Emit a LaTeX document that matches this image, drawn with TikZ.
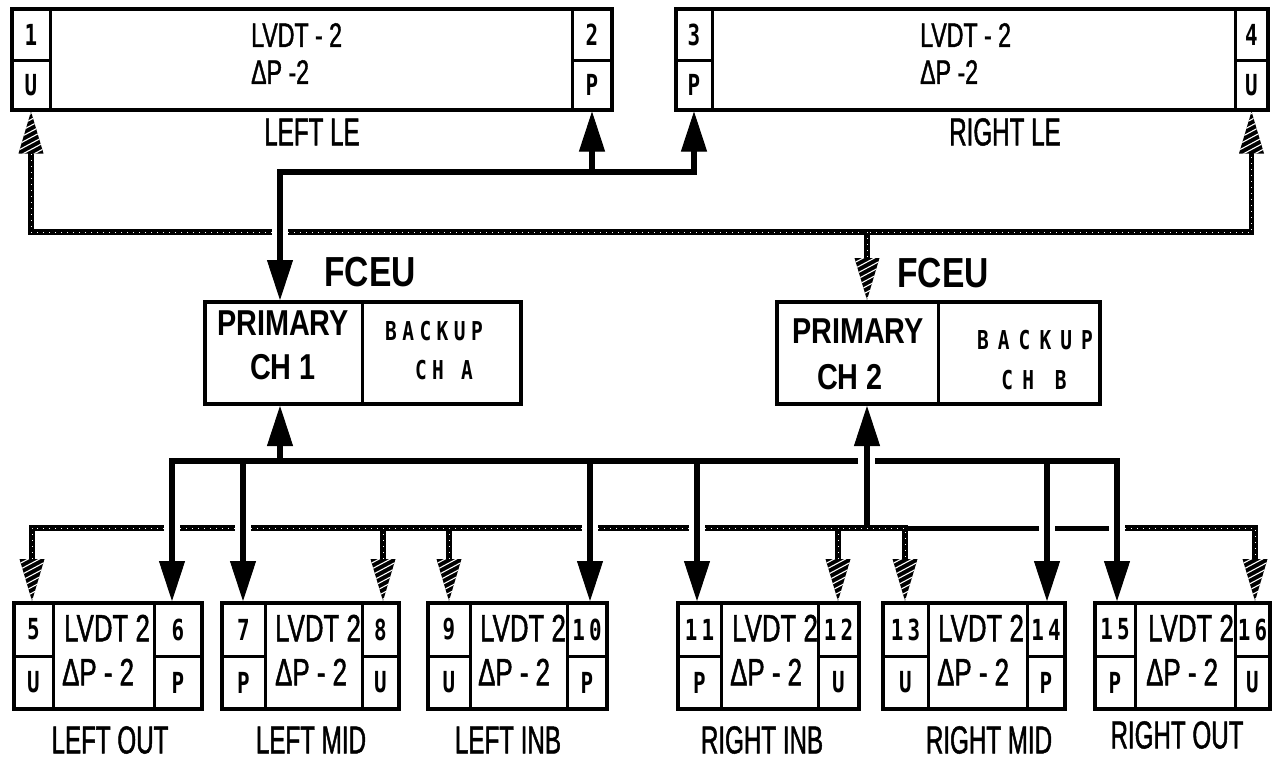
\documentclass[tikz,border=0pt]{standalone}
\usepackage{fontspec}
\setmainfont{Liberation Sans}
\newfontfamily\condf[FakeStretch=0.68,FakeBold=1.2]{Liberation Sans}
\newfontfamily\labf[FakeStretch=0.62,FakeBold=1.2]{Liberation Sans}
\newfontfamily\boldf[FakeStretch=0.8]{Liberation Sans}
\newfontfamily\cellf[FakeStretch=0.72,LetterSpace=15]{DejaVu Sans Mono}
\newfontfamily\blockf[FakeStretch=0.75,LetterSpace=21]{DejaVu Sans Mono}
\newfontfamily\blockwf[FakeStretch=0.75,LetterSpace=35]{DejaVu Sans Mono}
\usetikzlibrary{arrows.meta}
\newcommand\mkbox[7]{\node[#2, minimum width={(#5-#3)*1pt}, minimum height={(#6-#4)*1pt}] (#1) at ({(#3+#5)/2},{(#4+#6)/2}) {#7};}
\tikzset{
  sarr/.tip={Triangle[width=26pt,length=40pt,line width=1pt]},
  harr/.pic={
    \begin{scope}
      \clip (0,0) -- (-12.5,42) -- (12.5,42) -- cycle;
      \fill[black] (-15,-2) rectangle (15,44);
      \foreach \k in {4,10,...,64} {\draw[white,line width=1.1pt] (-15,\k) -- (15,\k-16);}
    \end{scope}
  }
}
\begin{document}
\begin{tikzpicture}[x=1pt,y=-1pt,
  outer/.style={draw, line width=4pt, inner sep=0pt},
  cell/.style={draw, line width=3pt, inner sep=0pt, font=\cellf\bfseries\fontsize{29}{29}\selectfont},
  tlv/.style={inner sep=0pt, anchor=west, font=\condf\fontsize{34}{34}\selectfont},
  blv/.style={inner sep=0pt, anchor=west, font=\condf\fontsize{38}{38}\selectfont},
  lab/.style={inner sep=0pt, font=\labf\fontsize{39}{39}\selectfont},
  fce/.style={inner sep=0pt, font=\boldf\bfseries\fontsize{42}{42}\selectfont},
  prim/.style={inner sep=0pt, font=\boldf\bfseries\fontsize{36}{36}\selectfont},
  bk/.style={inner sep=0pt, font=\blockf\bfseries\fontsize{26}{26}\selectfont},
  bkw/.style={inner sep=0pt, font=\blockwf\bfseries\fontsize{26}{26}\selectfont},
  sline/.style={line width=6pt, black},
  sthin/.style={line width=5pt, black},
  rope/.style={line width=5.5pt, black, postaction={draw=white, line width=0.9pt, dash pattern=on 1pt off 5pt}}
]
\useasboundingbox (0,0) rectangle (1275,763);

% ---------- top boxes ----------
\mkbox{c1a}{cell}{12}{9}{50}{60}{1}
\mkbox{c1b}{cell}{12}{60}{50}{110}{U}
\mkbox{c2a}{cell}{572}{9}{612}{60}{2}
\mkbox{c2b}{cell}{572}{60}{612}{110}{P}
\mkbox{LLE}{outer}{12}{9}{612}{110}{}
\mkbox{c3a}{cell}{676}{9}{712}{60}{3}
\mkbox{c3b}{cell}{676}{60}{712}{110}{P}
\mkbox{c4a}{cell}{1235}{9}{1268}{60}{4}
\mkbox{c4b}{cell}{1235}{60}{1268}{110}{U}
\mkbox{RLE}{outer}{676}{9}{1268}{110}{}
\node[tlv] (lle1) at (251,35) {LVDT - 2};
\node[tlv] (lle2) at (251,72) {ΔP -2};
\node[tlv] (rle1) at (920,35) {LVDT - 2};
\node[tlv] (rle2) at (920,72) {ΔP -2};
\node[lab] (lleL) at (312,132) {LEFT LE};
\node[lab] (rleL) at (1005,132) {RIGHT LE};

% ---------- FCEU boxes ----------
\mkbox{F1p}{cell}{205}{302}{362}{404}{}
\mkbox{F1}{outer}{205}{302}{521}{404}{}
\mkbox{F2p}{cell}{777}{302}{938}{404}{}
\mkbox{F2}{outer}{777}{302}{1100}{404}{}
\node[fce] (fc1) at (370,272) {FCEU};
\node[fce] (fc2) at (943,273) {FCEU};
\node[prim] (p1) at (283,323) {PRIMARY};
\node[prim] (ch1) at (283,367) {CH 1};
\node[prim] (p2) at (858,331) {PRIMARY};
\node[prim] (ch2) at (850,377) {CH 2};
\node[bk] (bk1) at (434,331) {BACKUP};
\node[bk] (cha) at (444,370) {CH A};
\node[bkw] (bk2) at (1035,340) {BACKUP};
\node[bkw] (chb) at (1034,380) {CH B};

% ---------- bottom boxes ----------
\mkbox{B1a}{cell}{14}{603}{53}{656}{5}
\mkbox{B1b}{cell}{14}{656}{53}{709}{U}
\mkbox{B1c}{cell}{154}{603}{202}{656}{6}
\mkbox{B1d}{cell}{154}{656}{202}{709}{P}
\mkbox{B1}{outer}{14}{603}{202}{709}{}
\mkbox{B2a}{cell}{222}{603}{265}{656}{7}
\mkbox{B2b}{cell}{222}{656}{265}{709}{P}
\mkbox{B2c}{cell}{362}{603}{399}{656}{8}
\mkbox{B2d}{cell}{362}{656}{399}{709}{U}
\mkbox{B2}{outer}{222}{603}{399}{709}{}
\mkbox{B3a}{cell}{428}{603}{470}{656}{9}
\mkbox{B3b}{cell}{428}{656}{470}{709}{U}
\mkbox{B3c}{cell}{567}{603}{607}{656}{10}
\mkbox{B3d}{cell}{567}{656}{607}{709}{P}
\mkbox{B3}{outer}{428}{603}{607}{709}{}
\mkbox{B4a}{cell}{678}{603}{721}{656}{11}
\mkbox{B4b}{cell}{678}{656}{721}{709}{P}
\mkbox{B4c}{cell}{818}{603}{859}{656}{12}
\mkbox{B4d}{cell}{818}{656}{859}{709}{U}
\mkbox{B4}{outer}{678}{603}{859}{709}{}
\mkbox{B5a}{cell}{883}{603}{928}{656}{13}
\mkbox{B5b}{cell}{883}{656}{928}{709}{U}
\mkbox{B5c}{cell}{1027}{603}{1065}{656}{14}
\mkbox{B5d}{cell}{1027}{656}{1065}{709}{P}
\mkbox{B5}{outer}{883}{603}{1065}{709}{}
\mkbox{B6a}{cell}{1095}{603}{1135}{656}{15}
\mkbox{B6b}{cell}{1095}{656}{1135}{709}{P}
\mkbox{B6c}{cell}{1235}{603}{1270}{656}{16}
\mkbox{B6d}{cell}{1235}{656}{1270}{709}{U}
\mkbox{B6}{outer}{1095}{603}{1270}{709}{}

\node[blv] (b1t1) at (64,628) {LVDT 2};
\node[blv] (b1t2) at (62,672) {ΔP - 2};
\node[blv] (b2t1) at (275,628) {LVDT 2};
\node[blv] (b2t2) at (275,672) {ΔP - 2};
\node[blv] (b3t1) at (480,628) {LVDT 2};
\node[blv] (b3t2) at (478,672) {ΔP - 2};
\node[blv] (b4t1) at (732,628) {LVDT 2};
\node[blv] (b4t2) at (730,672) {ΔP - 2};
\node[blv] (b5t1) at (938,628) {LVDT 2};
\node[blv] (b5t2) at (937,672) {ΔP - 2};
\node[blv] (b6t1) at (1148,628) {LVDT 2};
\node[blv] (b6t2) at (1146,672) {ΔP - 2};

\node[lab] (L1) at (110,740) {LEFT OUT};
\node[lab] (L2) at (311,740) {LEFT MID};
\node[lab] (L3) at (508,740) {LEFT INB};
\node[lab] (L4) at (762,740) {RIGHT INB};
\node[lab] (L5) at (989,740) {RIGHT MID};
\node[lab] (L6) at (1177,735) {RIGHT OUT};

% ---------- top connectors ----------
\coordinate (sy) at (0,172);
\coordinate (t1) at (280,172);
\coordinate (f1in) at (F1.north -| t1);
\draw[sline,-sarr] (c3b.south |- sy) -- (t1) -- (f1in);
\draw[sline,-sarr] (t1) -- (c3b.south |- sy) -- (c3b.south);
\draw[sline,-sarr] (c2b.south |- sy) -- (c2b.south);

\coordinate (hy) at (0,232);
\coordinate (hTa) at (c1b.south |- hy);
\coordinate (hTb) at (272,232);
\coordinate (hTc) at (288,232);
\coordinate (hTd) at (c4b.south |- hy);
\coordinate (hTe) at (867,232);
\coordinate (f2in) at (F2.north -| hTe);
\draw[rope] (hTb) -- (hTa) -- ([yshift=-40pt]c1b.south);
\draw[rope] (hTc) -- (hTd) -- ([yshift=-40pt]c4b.south);
\draw[rope] (hTe) -- ([yshift=40pt]f2in);
\pic at (c1b.south) {harr};
\pic at (c4b.south) {harr};
\pic[rotate=180] at (f2in) {harr};

% ---------- bottom solid bus ----------
\coordinate (d6) at (172,461);
\coordinate (d7) at (243,461);
\coordinate (d10) at (590,461);
\coordinate (d11) at (697,461);
\coordinate (d14) at (1047,461);
\coordinate (d15) at (1117,461);
\coordinate (g1) at (858,461);
\coordinate (g2) at (875,461);
\coordinate (u1) at (280,461);
\coordinate (u2) at (867,528);
\draw[sline,-sarr] (g1) -- (d6) -- (d6 |- B1.north);
\draw[sline,-sarr] (g2) -- (d15) -- (d15 |- B6.north);
\draw[sline,-sarr] (d7) -- (d7 |- B2.north);
\draw[sline,-sarr] (d10) -- (d10 |- B3.north);
\draw[sline,-sarr] (d11) -- (d11 |- B4.north);
\draw[sline,-sarr] (d14) -- (d14 |- B5.north);
\draw[sline,-sarr] (u1) -- (u1 |- F1.south);
\draw[sline,-sarr] (u2) -- (u2 |- F2.south);

% ---------- bottom hatched bus ----------
\coordinate (h5) at (32,528);
\coordinate (h8) at (383,528);
\coordinate (h9) at (449,528);
\coordinate (h12) at (838,528);
\coordinate (h13) at (905,528);
\coordinate (h16) at (1255,528);
\coordinate (e1) at (164,528);
\coordinate (e2) at (180,528);
\coordinate (e3) at (235,528);
\coordinate (e4) at (251,528);
\coordinate (e5) at (582,528);
\coordinate (e6) at (598,528);
\coordinate (e7) at (689,528);
\coordinate (e8) at (705,528);
\coordinate (e9) at (1039,528);
\coordinate (e10) at (1055,528);
\coordinate (e11) at (1109,528);
\coordinate (e12) at (1125,528);
\coordinate (h5in) at (h5 |- B1.north);
\coordinate (h8in) at (h8 |- B2.north);
\coordinate (h9in) at (h9 |- B3.north);
\coordinate (h12in) at (h12 |- B4.north);
\coordinate (h13in) at (h13 |- B5.north);
\coordinate (h16in) at (h16 |- B6.north);
\draw[rope] (e1) -- (h5) -- ([yshift=40pt]h5in);
\draw[rope] (e2) -- (e3);
\draw[rope] (e4) -- (e5);
\draw[rope] (e6) -- (e7);
\draw[rope] (e8) -- (h13) -- ([yshift=40pt]h13in);
\draw[sthin] (h13) -- (e9);
\draw[sthin] (e10) -- (e11);
\draw[rope] (e12) -- (h16) -- ([yshift=40pt]h16in);
\draw[rope] (h8) -- ([yshift=40pt]h8in);
\draw[rope] (h9) -- ([yshift=40pt]h9in);
\draw[rope] (h12) -- ([yshift=40pt]h12in);
\pic[rotate=180] at (h5in) {harr};
\pic[rotate=180] at (h8in) {harr};
\pic[rotate=180] at (h9in) {harr};
\pic[rotate=180] at (h12in) {harr};
\pic[rotate=180] at (h13in) {harr};
\pic[rotate=180] at (h16in) {harr};
\end{tikzpicture}
\end{document}
